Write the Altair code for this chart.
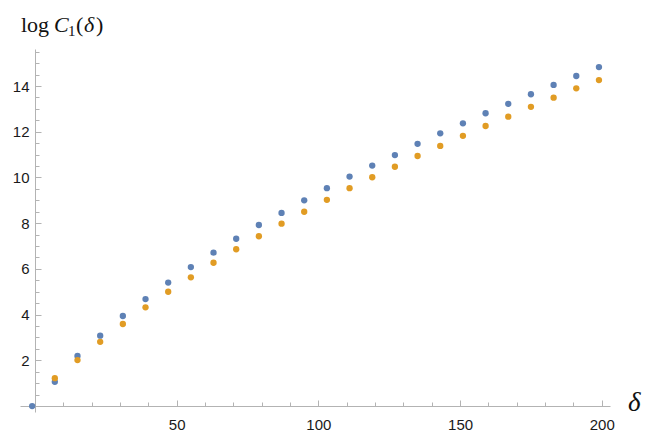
import altair as alt
import pandas as pd

# ---- data ----
delta_blue = [-1, 7, 15, 23, 31, 39, 47, 55, 63, 71, 79, 87, 95, 103, 111,
              119, 127, 135, 143, 151, 159, 167, 175, 183, 191, 199]
logC_blue = [0.0, 1.06, 2.19, 3.08, 3.94, 4.68, 5.40, 6.08, 6.71, 7.32, 7.92,
             8.45, 9.00, 9.53, 10.04, 10.52, 10.98, 11.47, 11.93, 12.37, 12.81,
             13.22, 13.64, 14.05, 14.44, 14.83]
delta_orange = [7, 15, 23, 31, 39, 47, 55, 63, 71, 79, 87, 95, 103, 111,
                119, 127, 135, 143, 151, 159, 167, 175, 183, 191, 199]
logC_orange = [1.22, 2.01, 2.81, 3.59, 4.32, 5.00, 5.63, 6.27, 6.86, 7.43,
               7.98, 8.50, 9.02, 9.53, 10.01, 10.47, 10.94, 11.38, 11.82,
               12.25, 12.66, 13.09, 13.49, 13.90, 14.26]

x_major = [50, 100, 150, 200]
x_minor = [10, 20, 30, 40, 60, 70, 80, 90, 110, 120, 130, 140, 160, 170,
           180, 190]
y_major = [2, 4, 6, 8, 10, 12, 14]
y_minor = [0.5, 1, 1.5, 2.5, 3, 3.5, 4.5, 5, 5.5, 6.5, 7, 7.5, 8.5, 9, 9.5,
           10.5, 11, 11.5, 12.5, 13, 13.5, 14.5, 15, 15.5]

series = ["s1"] * len(delta_blue) + ["s2"] * len(delta_orange)
df = pd.DataFrame({
    "delta": delta_blue + delta_orange,
    "logC": logC_blue + logC_orange,
    "series": series,
})

W, H = 590, 363
X_DOM = [-5.29, 202.9]
Y_DOM = [-0.26, 15.62]
AX = "#b3b3b3"
LAB = "#1a1a1a"
FONT = "Liberation Sans"

xs = alt.Scale(domain=X_DOM, nice=False, zero=False)
ys = alt.Scale(domain=Y_DOM, nice=False, zero=False)

points = alt.Chart(df).mark_circle(size=40, opacity=1).encode(
    x=alt.X("delta:Q", scale=xs,
            axis=alt.Axis(orient="bottom", offset=-6, values=x_major,
                          ticks=False, tickSize=0, labelPadding=11,
                          domainColor=AX, domainWidth=1, grid=False,
                          labelFont=FONT, labelFontSize=15, labelColor=LAB,
                          title=None, labelFlush=False)),
    y=alt.Y("logC:Q", scale=ys,
            axis=alt.Axis(orient="left", offset=-15, values=y_major,
                          ticks=False, tickSize=0, labelPadding=6,
                          domainColor=AX, domainWidth=1, grid=False,
                          labelFont=FONT, labelFontSize=15, labelColor=LAB,
                          title=None, labelFlush=False)),
    color=alt.Color("series:N",
                    scale=alt.Scale(domain=["s1", "s2"],
                                    range=["#5E81B5", "#E19C24"]),
                    legend=None),
)

major = alt.Chart(df).mark_circle(opacity=0).encode(
    x=alt.X("delta:Q", scale=xs,
            axis=alt.Axis(orient="top", offset=-357, values=x_major,
                          labels=False, domain=False, grid=False,
                          tickSize=6, tickColor=AX, tickWidth=1, title=None)),
    y=alt.Y("logC:Q", scale=ys,
            axis=alt.Axis(orient="right", offset=-575, values=y_major,
                          labels=False, domain=False, grid=False,
                          tickSize=6, tickColor=AX, tickWidth=1, title=None)),
)

minor = alt.Chart(df).mark_circle(opacity=0).encode(
    x=alt.X("delta:Q", scale=xs,
            axis=alt.Axis(orient="top", offset=-357, values=x_minor,
                          labels=False, domain=False, grid=False,
                          tickSize=4, tickColor=AX, tickWidth=1, title=None)),
    y=alt.Y("logC:Q", scale=ys,
            axis=alt.Axis(orient="right", offset=-575, values=y_minor,
                          labels=False, domain=False, grid=False,
                          tickSize=4, tickColor=AX, tickWidth=1, title=None)),
)

# ---- axis labels (Mathematica-style traditional form) ----
def txt(s, x, y, size, style="normal"):
    return alt.Chart(pd.DataFrame({"t": [s]})).mark_text(
        align="left", baseline="alphabetic", font="Liberation Serif",
        fontSize=size, fontStyle=style, color="#111111",
    ).encode(text="t:N", x=alt.value(x), y=alt.value(y))

title_parts = [
    txt("log", 1, -17, 22),
    txt("C", 34, -17, 22, "italic"),
    txt("1", 48, -13, 15),
    txt("(", 56, -17, 22),
    txt("δ", 64, -17, 22, "italic"),
    txt(")", 76, -17, 22),
]
xlabel = txt("δ", 608, 362, 27, "italic")

chart = alt.layer(points, major, minor, *title_parts, xlabel).resolve_axis(
    x="independent", y="independent"
).properties(
    width=W, height=H,
    autosize=alt.AutoSizeParams(type="none"),
    padding={"left": 12, "top": 41, "right": 37, "bottom": 20},
).configure_view(stroke=None)

chart.save("out.html", embed_options={"renderer": "svg", "actions": False})
